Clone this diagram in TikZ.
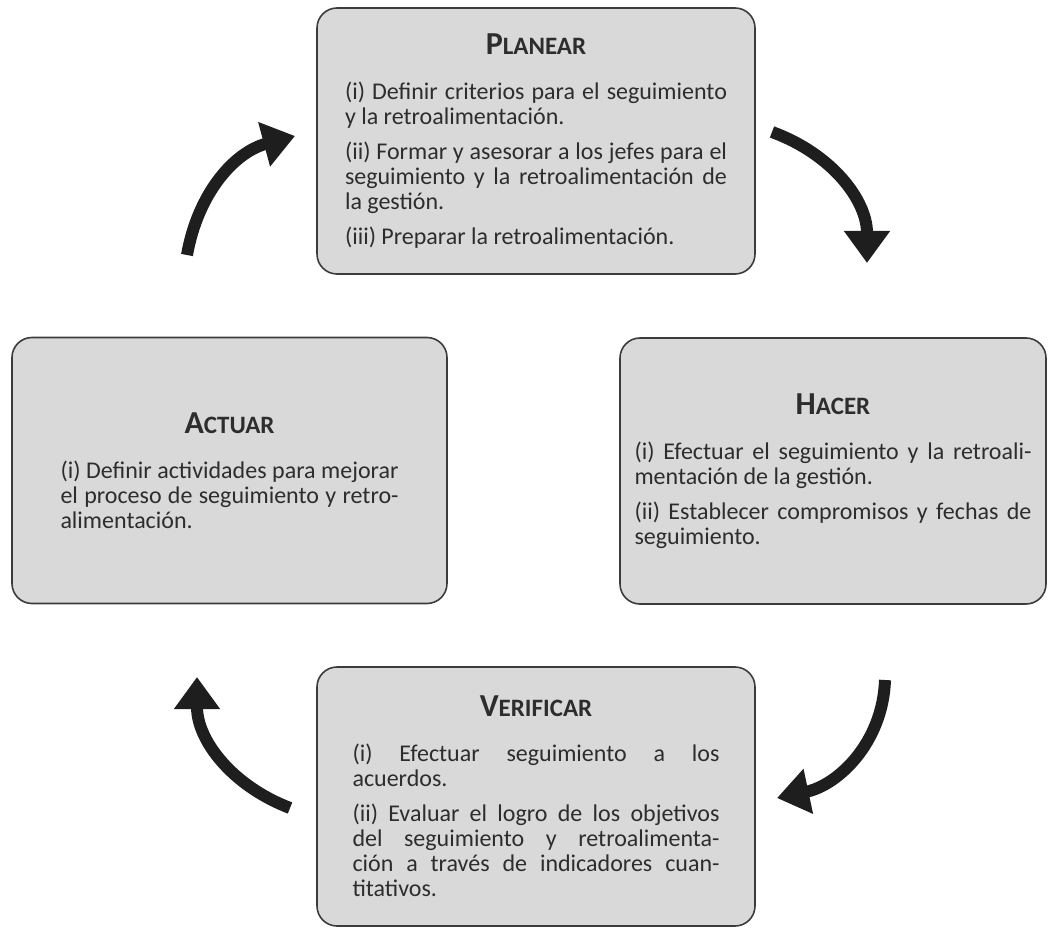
\documentclass[tikz,border=0pt]{standalone}
\usepackage{fontspec}
\setmainfont{Carlito}
\usepackage{tikz}
\usetikzlibrary{arrows.meta, positioning}
\definecolor{boxfill}{RGB}{217,217,217}
\definecolor{boxline}{RGB}{60,60,60}
\definecolor{inktext}{RGB}{45,45,45}
\definecolor{arrowink}{RGB}{30,30,30}
\newcommand{\fasetitle}[2]{{\bfseries\fontsize{16}{16}\selectfont #1\fontsize{12.5}{12.5}\selectfont #2}}

\begin{document}
\begin{tikzpicture}[x=0.5pt, y=0.5pt,
    phase/.style={draw=boxline, line width=0.8pt, fill=boxfill, rounded corners=10pt,
        minimum width=219pt, minimum height=133pt, align=justify, text=inktext,
        font=\fontsize{12}{12.5}\selectfont, inner sep=0pt,
        execute at begin node={\setlength{\parskip}{5pt}\hyphenpenalty=10000}},
    turn/.style={draw=arrowink, line width=6pt, -{Triangle[width=22pt, length=16pt]}},
    ]
\useasboundingbox (0,0) rectangle (1048,928);

% the four phases of the cycle
\node[phase, text width=191pt] (planear) at (536,787) {%
    {\centering\fasetitle{P}{LANEAR}\par}\vspace{5pt}
    (i) Definir criterios para el seguimiento\linebreak y la retroalimentación.\par
    (ii) Formar y asesorar a los jefes para el\linebreak seguimiento y la retroalimentación de\linebreak la gestión.\par
    (iii) Preparar la retroalimentación.};
\node[phase, text width=198.5pt, minimum width=213pt] (hacer) at (833,457) {%
    {\centering\fasetitle{H}{ACER}\par}\vspace{5pt}
    (i) Efectuar el seguimiento y la retroali-\linebreak mentación de la gestión.\par
    (ii) Establecer compromisos y fechas de\linebreak seguimiento.};
\node[phase, text width=183.5pt, minimum height=129.5pt] (verificar) at (536,131.5) {%
    {\centering\fasetitle{V}{ERIFICAR}\par}\vspace{5pt}
    (i) Efectuar seguimiento a los\linebreak acuerdos.\par
    (ii) Evaluar el logro de los objetivos\linebreak del seguimiento y retroalimenta-\linebreak ción a través de indicadores cuan-\linebreak titativos.};
\node[phase, text width=169pt, minimum width=217.5pt] (actuar) at (229.5,457.5) {%
    {\centering\fasetitle{A}{CTUAR}\par}\vspace{5pt}
    (i) Definir actividades para mejorar\linebreak el proceso de seguimiento y retro-\linebreak alimentación.};

% curved arrows between the phases
\coordinate (p2h-s) at (772,796);
\coordinate (p2h-e) at (867,665);
\coordinate (h2v-s) at (885,248);
\coordinate (h2v-e) at (777,130);
\coordinate (v2a-s) at (290,120);
\coordinate (v2a-e) at (197,251);
\coordinate (a2p-s) at (187,673);
\coordinate (a2p-e) at (295,792);
\draw[turn] (p2h-s) to[out=-20, in=90] (p2h-e);
\draw[turn] (h2v-s) to[out=-92, in=12] (h2v-e);
\draw[turn] (v2a-s) to[out=159, in=-90] (v2a-e);
\draw[turn] (a2p-s) to[out=80, in=195] (a2p-e);
\end{tikzpicture}
\end{document}
